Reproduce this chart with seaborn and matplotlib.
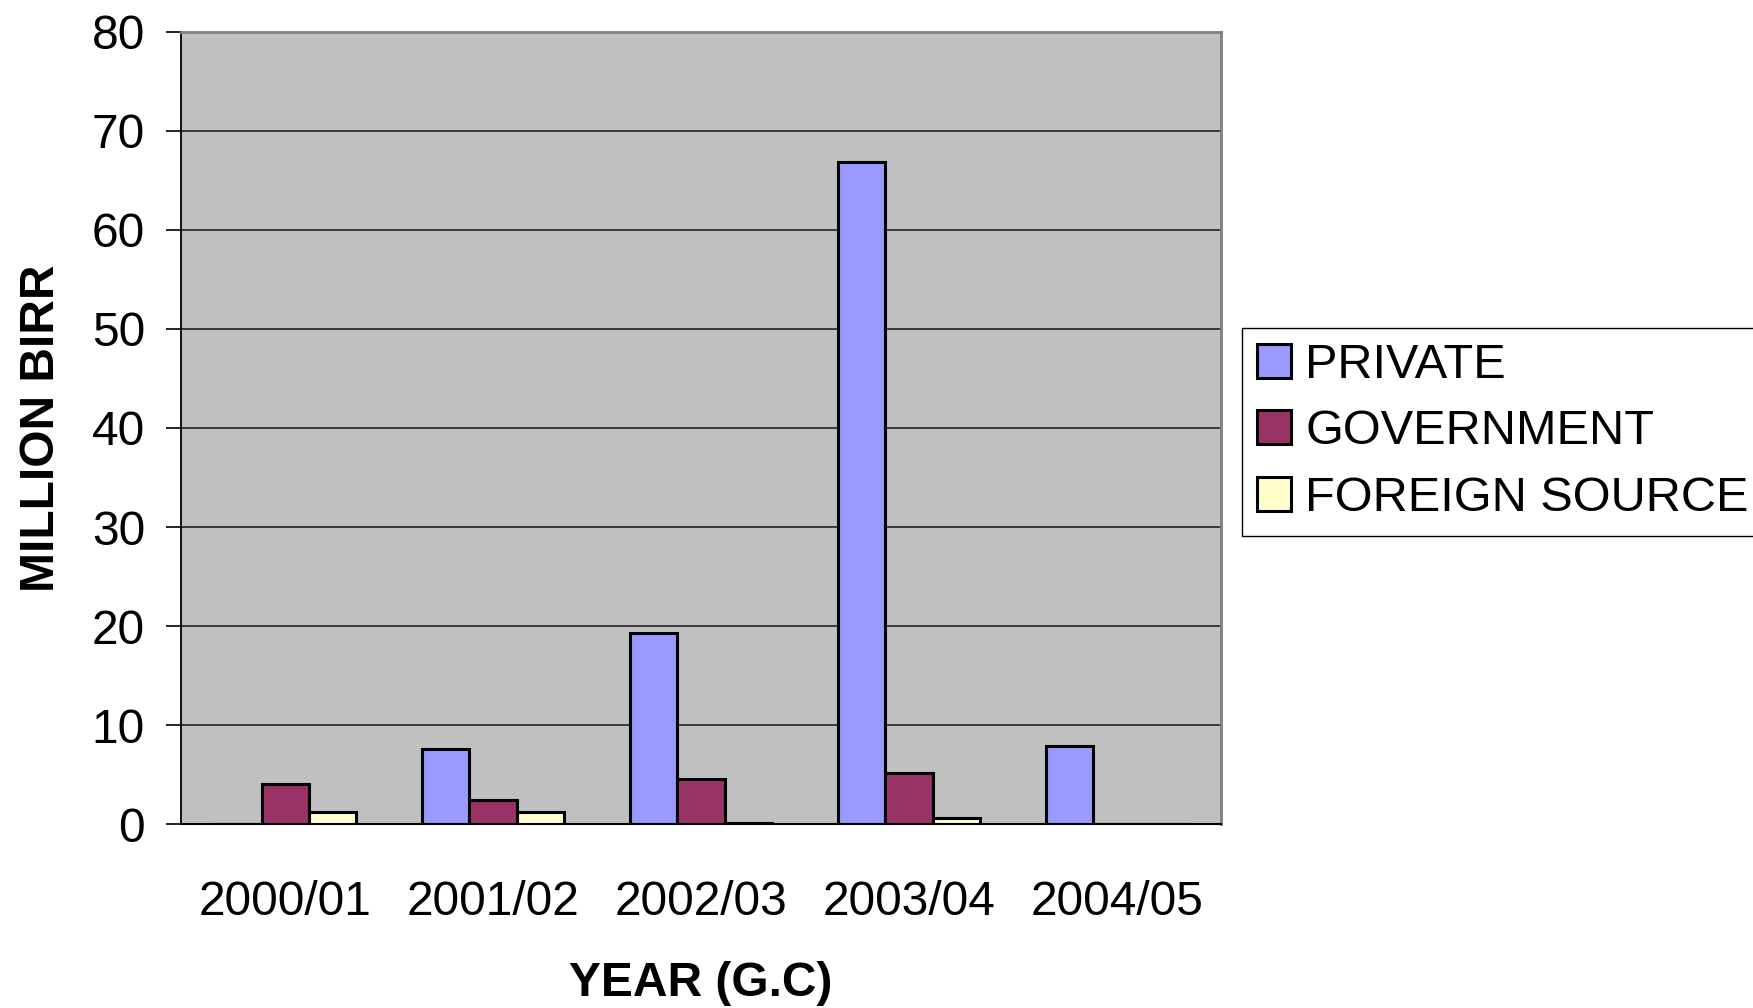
import pandas as pd
import numpy as np
import seaborn as sns
import matplotlib.pyplot as plt
from matplotlib.ticker import FixedLocator

# values (million birr)
years = ["2000/01", "2001/02", "2002/03", "2003/04", "2004/05"]
sources = ["PRIVATE", "GOVERNMENT", "FOREIGN SOURCE"]
private = [0.0, 7.6, 19.3, 66.9, 7.9]
government = [4.0, 2.45, 4.5, 5.2, 0.0]
foreign = [1.2, 1.25, 0.1, 0.6, 0.0]
colors = ["#9999FF", "#993366", "#FFFFCC"]

df = pd.DataFrame({
    "year": years * 3,
    "source": [sources[0]] * 5 + [sources[1]] * 5 + [sources[2]] * 5,
    "value": private + government + foreign,
})

sns.set_style("white")
plt.rcParams["font.family"] = ["Liberation Sans", "DejaVu Sans"]
for key in ["text.color", "axes.labelcolor", "xtick.color", "ytick.color"]:
    plt.rcParams[key] = "black"

fig = plt.figure(figsize=(17.53, 10.08), dpi=100)
ax = fig.add_axes([0.1033, 0.1825, 0.5932, 0.7858])

sns.barplot(data=df, x="year", y="value", hue="source", order=years,
            hue_order=sources, palette=colors, saturation=1, width=0.68,
            gap=0, edgecolor="black", linewidth=2.2, ax=ax, legend=True,
            zorder=3)

ax.set_facecolor("#C0C0C0")
ax.set_xlim(-0.5, 4.5)
ax.set_ylim(0, 80)
ax.set_yticks(np.arange(0, 81, 10))
ax.yaxis.grid(True, color="#222222", linewidth=1.2, zorder=0)
ax.set_axisbelow(True)

for side in ["top", "right"]:
    ax.spines[side].set_color("#808080")
    ax.spines[side].set_linewidth(2)
ax.spines["left"].set_color("black")
ax.spines["left"].set_linewidth(1.3)
ax.spines["bottom"].set_color("black")
ax.spines["bottom"].set_linewidth(1.5)

# category boundary ticks like the original
ax.xaxis.set_minor_locator(FixedLocator(np.arange(-0.5, 4.6, 1.0)))
ax.tick_params(axis="x", which="major", length=0, pad=40, labelsize=34.5)
ax.tick_params(axis="x", which="minor", length=10, width=1.2, color="black")
ax.tick_params(axis="y", which="major", length=11, width=1.2, color="black",
               pad=15, labelsize=34.5, left=True)

ax.set_xlabel("YEAR (G.C)", fontsize=34.5, fontweight="bold", labelpad=26)
ax.set_ylabel("MILLION BIRR", fontsize=34.5, fontweight="bold", labelpad=20)

handles, labels = ax.get_legend_handles_labels()
ax.legend(handles, labels, loc="upper left", bbox_to_anchor=(0.7085, 0.6746),
          bbox_transform=fig.transFigure, fontsize=35, frameon=True,
          fancybox=False, edgecolor="black", framealpha=1,
          handlelength=0.7, handleheight=0.7, handletextpad=0.3,
          labelspacing=0.45, borderpad=0.3, borderaxespad=0)

fig.savefig("out.png", dpi=100)
